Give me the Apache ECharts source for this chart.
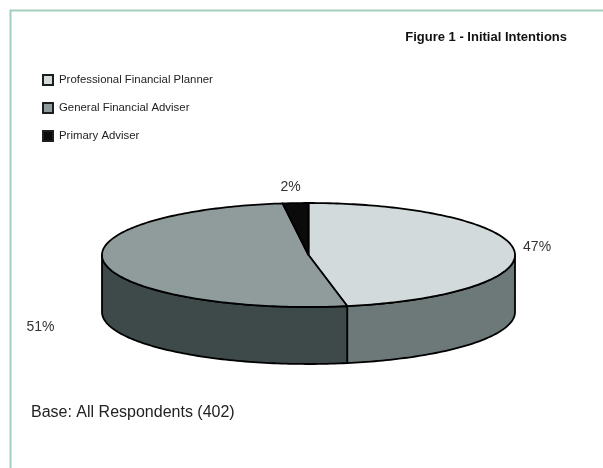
<!DOCTYPE html>
<html>
<head>
<meta charset="utf-8">
<script src="https://cdn.jsdelivr.net/npm/echarts@6/dist/echarts.min.js"></script>
<style>
  html, body { margin: 0; padding: 0; background: #ffffff; }
  #chart { width: 603px; height: 468px; }
</style>
</head>
<body>
<div id="chart"></div>
<script>
// Survey answers: share of respondents (%) per adviser type
const categories = ['Professional Financial Planner', 'General Financial Adviser', 'Primary Adviser'];
const shares = [47, 51, 2];
const shareLabels = ['47%', '51%', '2%'];

// Face colours for the tilted pie: lid and wall per slice
const topColors = ['#d3dadb', '#8f9c9b', '#0b0b0b'];
const sideColors = ['#6c7978', '#3e494a', '#0b0b0b'];
// Label nudges (px) away from each slice's mid-point on the rim
const labelNudge = [[23, -3], [-64, 64], [-5, -16]];

// Disc geometry (px)
const disc = { cx: 308.5, cy: 255, rx: 206.5, ry: 52, depth: 57 };
const total = shares.reduce((a, b) => a + b, 0);
const FONT = '"Liberation Sans", Arial, sans-serif';

function rim(t, dy) {
  return [disc.cx + disc.rx * Math.sin(t), disc.cy - disc.ry * Math.cos(t) + (dy || 0)];
}
function arc(a0, a1, dy) {
  const pts = [];
  const n = Math.max(2, Math.ceil((a1 - a0) / 0.02));
  for (let k = 0; k <= n; k++) pts.push(rim(a0 + (a1 - a0) * k / n, dy));
  return pts;
}

function makeRender(idx) {
  let before = 0;
  for (let j = 0; j < idx; j++) before += shares[j];
  return function (params, api) {
    const v = api.value(0);
    const a0 = before / total * Math.PI * 2;
    const a1 = (before + v) / total * Math.PI * 2;
    const children = [];
    // front wall, only the part facing the viewer
    const s0 = Math.max(a0, Math.PI / 2);
    const s1 = Math.min(a1, Math.PI * 1.5);
    if (s1 > s0) {
      const upper = arc(s0, s1, 0);
      const lower = arc(s0, s1, disc.depth).reverse();
      children.push({
        type: 'polygon',
        shape: { points: upper.concat(lower) },
        style: { fill: sideColors[idx], stroke: '#000', lineWidth: 1.8, lineJoin: 'round' }
      });
    }
    // lid
    children.push({
      type: 'polygon',
      shape: { points: [[disc.cx, disc.cy]].concat(arc(a0, a1, 0)) },
      style: { fill: topColors[idx], stroke: '#000', lineWidth: 1.8, lineJoin: 'round' }
    });
    // value label
    const mid = rim((a0 + a1) / 2, 0);
    children.push({
      type: 'text',
      x: mid[0] + labelNudge[idx][0],
      y: mid[1] + labelNudge[idx][1],
      style: {
        text: shareLabels[idx], fill: '#333', font: '14px ' + FONT,
        align: 'center', verticalAlign: 'middle'
      }
    });
    return { type: 'group', children: children };
  };
}

const chart = echarts.init(document.getElementById('chart'), null, { renderer: 'canvas' });

chart.setOption({
  backgroundColor: '#ffffff',
  animation: false,
  title: {
    text: 'Figure 1 - Initial Intentions',
    right: 36, top: 31, padding: 0,
    textStyle: { fontSize: 13, fontWeight: 'bold', color: '#111', fontFamily: FONT }
  },
  legend: {
    data: categories,
    orient: 'vertical',
    left: 42, top: 74, padding: 0,
    icon: 'rect',
    itemWidth: 10, itemHeight: 10,
    itemGap: 16,
    itemStyle: { borderColor: '#1e1e1e', borderWidth: 2 },
    textStyle: { fontSize: 11.4, color: '#222', fontFamily: FONT, padding: [0, 0, 0, 1] },
    selectedMode: false
  },
  graphic: [
    {
      type: 'polyline',
      shape: { points: [[10.5, 468], [10.5, 10.5], [603, 10.5]] },
      style: { stroke: '#a3cfbd', lineWidth: 2, fill: null }
    },
    {
      type: 'text', left: 31, top: 405,
      style: { text: 'Base: All Respondents (402)', fill: '#222', font: '16px ' + FONT }
    }
  ],
  series: categories.map((name, i) => ({
    type: 'custom',
    name: name,
    coordinateSystem: 'none',
    itemStyle: { color: topColors[i] },
    data: [shares[i]],
    renderItem: makeRender(i)
  }))
});
</script>
</body>
</html>
